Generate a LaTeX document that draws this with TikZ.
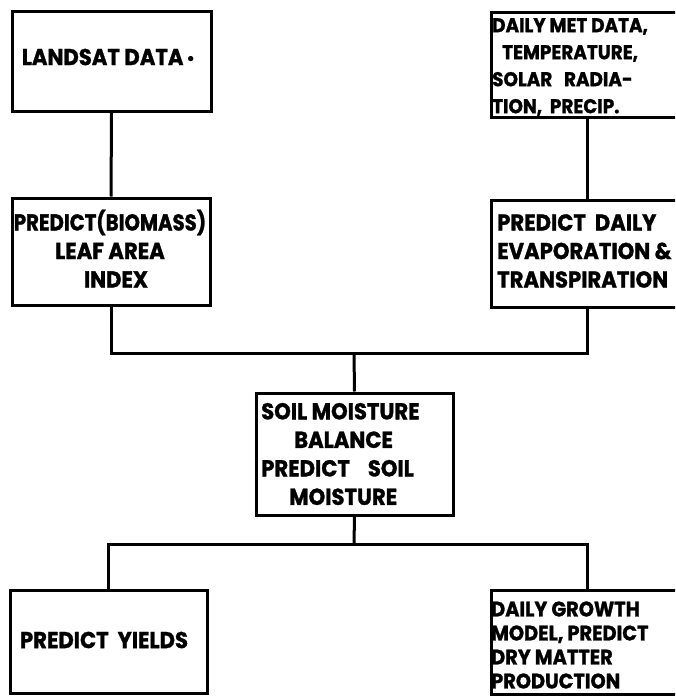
\documentclass[tikz,border=0pt]{standalone}
\usepackage{fontspec}
\setmainfont{Poppins}[FakeStretch=0.92, BoldFeatures={FakeBold=1.2}]
\usetikzlibrary{calc}
\tikzset{
  box/.style={draw=black, line width=3pt, rectangle, inner sep=0pt},
  wire/.style={draw=black, line width=3pt},
  lbl/.style={inner sep=0pt, font=\bfseries\fontsize{23}{28.5}\selectfont},
}
\begin{document}
\begin{tikzpicture}[x=1pt,y=-1pt]
\useasboundingbox (0,0) rectangle (675,696);
\clip (0,0) rectangle (675,696);
\fill[white] (0,0) rectangle (675,696);
% boxes
\node[box, minimum width=199pt, minimum height=100pt] (landsat) at (111.5,61) {};
\node[box, minimum width=192pt, minimum height=105pt] (met) at (587,64.5) {};
\node[box, minimum width=198pt, minimum height=107pt] (lai) at (111,251.5) {};
\node[box, minimum width=192pt, minimum height=107pt] (evap) at (587,253.5) {};
\node[box, minimum width=197pt, minimum height=122pt] (soil) at (354.5,454) {};
\node[box, minimum width=197pt, minimum height=103pt] (yields) at (108.5,641.5) {};
\node[box, minimum width=192pt, minimum height=104pt] (growth) at (587,642) {};
% labels
\node[lbl] (t1) at (108,57) {LANDSAT DATA\,\raisebox{3pt}{\scalebox{0.55}{$\bullet$}}};
\node[lbl, anchor=west, align=left, font=\bfseries\fontsize{20}{27}\selectfont] (t2) at (492,67)
  {DAILY MET DATA,\\\hspace{10pt}TEMPERATURE,\\SOLAR\ \ \ RADIA-\\TION,\ \ PRECIP.};
\node[lbl, align=center] (t3) at (110,248.5) {\scalebox{0.93}[1]{PREDICT(BIOMASS)}\\LEAF AREA\\\hspace{12pt}INDEX};
\node[lbl, anchor=west, align=left] (t4) at (497,251) {PREDICT\ \ DAILY\\EVAPORATION \&\\TRANSPIRATION};
\node[lbl, anchor=west, align=left] (t5) at (261,454) {SOIL MOISTURE\\\hspace{33pt}BALANCE\\PREDICT\ \ \ \ SOIL\\\hspace{28pt}MOISTURE};
\node[lbl] (t6) at (104,640) {PREDICT\ \ YIELDS};
\node[lbl, anchor=west, align=left, font=\bfseries\fontsize{21}{24}\selectfont] (t7) at (491,645)
  {DAILY GROWTH\\MODEL, PREDICT\\DRY MATTER\\PRODUCTION};
% connectors
\coordinate (bus1) at (354,353);
\coordinate (bus2) at (354,544);
\draw[wire] (landsat) -- (lai);
\draw[wire] (met) -- (evap);
\draw[wire] (lai.south) |- (bus1) -| (evap.south);
\draw[wire] (bus1) -- (soil.north);
\draw[wire] (soil.south) -- (bus2);
\draw[wire] (bus2) -| (yields.north);
\draw[wire] (bus2) -| (growth.north);
\end{tikzpicture}
\end{document}
